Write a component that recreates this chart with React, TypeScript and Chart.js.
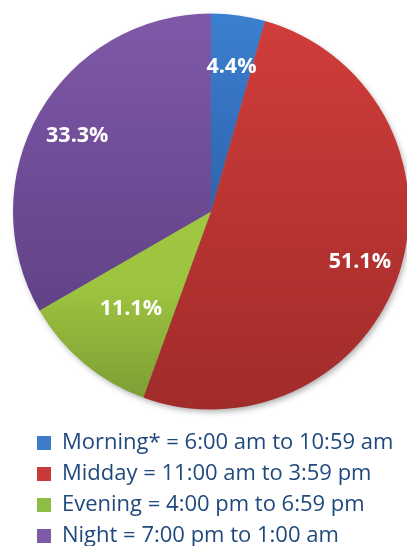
import React, { useEffect, useRef } from 'react';
import { Chart, registerables } from 'chart.js';

Chart.register(...registerables);

// ---- data ----
const categories = [
  'Morning* = 6:00 am to 10:59 am',
  'Midday = 11:00 am to 3:59 pm',
  'Evening = 4:00 pm to 6:59 pm',
  'Night = 7:00 pm to 1:00 am',
];
const shares = [4.4, 51.1, 11.1, 33.3];

// ---- styles ----
const legendColors = ['#3d7cc9', '#c83b3a', '#8ebd45', '#7c5aa6'];
const sliceStops: [number, string][][] = [
  [[0, '#3b80d0'], [1, '#22478a']],
  [[0, '#d13d3a'], [1, '#a02c2a']],
  [[0, '#a8cf45'], [0.69, '#9dc43f'], [1, '#7a9a34']],
  [[0, '#7f59a8'], [1, '#573a7c']],
];
const labelRadius = [0.75, 0.79, 0.63, 0.78];
const PIE_R = 198;

const shadowPlugin = {
  id: 'pieShadow',
  beforeDatasetsDraw(chart: any) {
    const meta = chart.getDatasetMeta(0);
    const arc = meta.data[0];
    if (!arc) return;
    const { x, y, outerRadius } = arc.getProps(['x', 'y', 'outerRadius'], true);
    const ctx = chart.ctx;
    ctx.save();
    ctx.shadowColor = 'rgba(0,0,0,0.35)';
    ctx.shadowBlur = 6;
    ctx.shadowOffsetX = 2;
    ctx.shadowOffsetY = 3;
    ctx.fillStyle = '#888';
    ctx.beginPath();
    ctx.arc(x, y, outerRadius - 1, 0, Math.PI * 2);
    ctx.fill();
    ctx.restore();
  },
};

const valueLabelPlugin = {
  id: 'valueLabels',
  afterDatasetsDraw(chart: any) {
    const meta = chart.getDatasetMeta(0);
    const ctx = chart.ctx;
    ctx.save();
    ctx.fillStyle = '#ffffff';
    ctx.font = 'bold 21.5px "Open Sans"';
    ctx.textAlign = 'center';
    ctx.textBaseline = 'middle';
    meta.data.forEach((arc: any, i: number) => {
      const { x, y, startAngle, endAngle, outerRadius } = arc.getProps(
        ['x', 'y', 'startAngle', 'endAngle', 'outerRadius'],
        true
      );
      const mid = (startAngle + endAngle) / 2;
      const r = outerRadius * labelRadius[i];
      const v = chart.data.datasets[0].data[i] as number;
      ctx.fillText(v.toFixed(1) + '%', x + Math.cos(mid) * r, y + Math.sin(mid) * r + 2);
    });
    ctx.restore();
  },
};

export default function App() {
  const canvasRef = useRef<HTMLCanvasElement | null>(null);

  useEffect(() => {
    if (!canvasRef.current) return;
    const chart = new Chart(canvasRef.current, {
      type: 'pie',
      data: {
        labels: categories,
        datasets: [
          {
            data: shares,
            borderWidth: 0,
            radius: PIE_R,
            backgroundColor: (c: any) => {
              const i = c.dataIndex;
              const area = c.chart.chartArea;
              if (i === undefined || !area) return legendColors[0];
              const cy = (area.top + area.bottom) / 2;
              const g = c.chart.ctx.createLinearGradient(0, cy - PIE_R, 0, cy + PIE_R);
              sliceStops[i].forEach(([o, col]) => g.addColorStop(o, col));
              return g;
            },
          } as any,
        ],
      },
      options: {
        responsive: false,
        animation: false,
        layout: { padding: { left: 28, right: 13, top: 0, bottom: 0 } },
        plugins: {
          tooltip: { enabled: false },
          legend: {
            position: 'bottom',
            align: 'start',
            labels: {
              boxWidth: 14,
              boxHeight: 14,
              padding: 9,
              color: '#1f497d',
              font: { family: '"Open Sans"', size: 22 },
              generateLabels: (ch: any) =>
                ch.data.labels.map((t: string, i: number) => ({
                  text: t,
                  fillStyle: legendColors[i],
                  strokeStyle: legendColors[i],
                  lineWidth: 0,
                  hidden: false,
                  index: i,
                  fontColor: '#1f497d',
                })),
            },
          },
        },
      },
      plugins: [shadowPlugin, valueLabelPlugin],
    });
    return () => chart.destroy();
  }, []);

  return (
    <div
      style={{
        position: 'fixed',
        left: 0,
        top: 0,
        width: 407,
        height: 546,
        overflow: 'hidden',
        background: '#ffffff',
      }}
    >
      <canvas ref={canvasRef} width={407} height={557} style={{ display: 'block' }} />
    </div>
  );
}
